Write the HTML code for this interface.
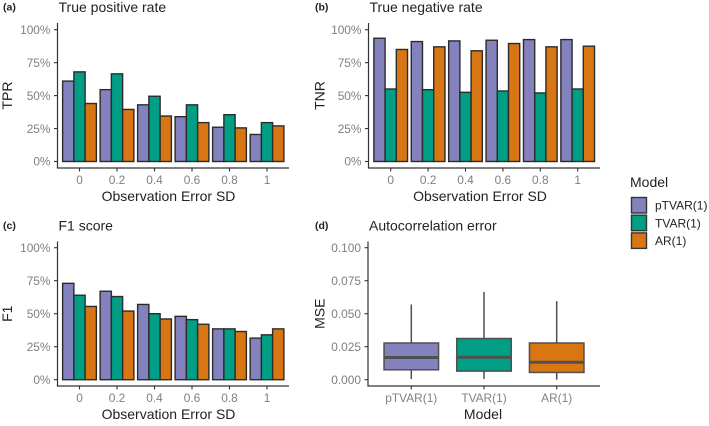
<!DOCTYPE html>
<html>
<head>
<meta charset="utf-8">
<style>
html,body{margin:0;padding:0;background:#fff;width:709px;height:426px;overflow:hidden}
svg{display:block;font-family:"Liberation Sans",sans-serif}
</style>
</head>
<body>
<svg id="fig" xmlns="http://www.w3.org/2000/svg" width="709" height="426" viewBox="0 0 709 426"></svg>
<script>
const sdCategories = ['0', '0.2', '0.4', '0.6', '0.8', '1'];
const modelNames = ['pTVAR(1)', 'TVAR(1)', 'AR(1)'];
const modelColors = ['#8482bd', '#009e85', '#d97614'];
const percentTicks = [0, 25, 50, 75, 100];
const mseTicks = [0, 0.025, 0.05, 0.075, 0.1];
const mseTickLabels = ['0.000', '0.025', '0.050', '0.075', '0.100'];

const tprPTVAR = [61, 54.5, 43, 34, 26, 20.5];
const tprTVAR = [68, 66.5, 49.5, 43, 35.5, 29.5];
const tprAR = [44, 39.5, 34.5, 29.5, 25.5, 27];

const tnrPTVAR = [93.5, 91, 91.5, 92, 92.5, 92.5];
const tnrTVAR = [55, 54.5, 52.5, 53.5, 52, 55];
const tnrAR = [85, 87, 84, 89.5, 87, 87.5];

const f1PTVAR = [73, 67, 57, 48, 38.5, 31.5];
const f1TVAR = [64, 63, 50, 45.5, 38.5, 34];
const f1AR = [55.5, 52, 46, 42, 36.5, 38.5];

const boxLower = [0.0075, 0.0065, 0.0055];
const boxMedian = [0.0168, 0.0170, 0.0132];
const boxUpper = [0.0278, 0.0312, 0.0278];
const whiskerLow = [0.0005, 0.0005, 0];
const whiskerHigh = [0.0570, 0.0665, 0.0595];

const svg = document.getElementById('fig');
const NS = 'http://www.w3.org/2000/svg';
const AXIS = '#333333', TICKTXT = '#808080', TXT = '#222222';

function node(tag, attrs, parent) {
  const el = document.createElementNS(NS, tag);
  for (const k in attrs) el.setAttribute(k, attrs[k]);
  (parent || svg).appendChild(el);
  return el;
}
function label(str, x, y, size, fill, anchor, parent, rotate, weight) {
  const a = {x: x, y: y, 'font-size': size, fill: fill, 'text-anchor': anchor || 'start'};
  if (rotate) a.transform = 'rotate(-90 ' + x + ' ' + y + ')';
  if (weight) a['font-weight'] = weight;
  const t = node('text', a, parent);
  t.textContent = str;
  return t;
}
function makeGroup(name, parent) {
  const g = node('g', {}, parent);
  
  
  return g;
}
function named(el, name) {
  
  
  return el;
}

function drawFrame(g, p, yTicks, yTickLabels, yScale, xLabels, xScale) {
  named(node('line', {x1: p.left, x2: p.left, y1: p.top, y2: p.bottom, stroke: AXIS, 'stroke-width': 1.2}, g), 'y-axis-line');
  named(node('line', {x1: p.left - 0.6, x2: p.right, y1: p.bottom, y2: p.bottom, stroke: AXIS, 'stroke-width': 1.2}, g), 'x-axis-line');
  yTicks.forEach(function (v, i) {
    const y = yScale(v);
    named(node('line', {x1: p.left - 3.5, x2: p.left, y1: y, y2: y, stroke: AXIS, 'stroke-width': 1.1}, g), 'y-tick');
    named(label(yTickLabels[i], p.left - 7, y + 4.2, 11.9, TICKTXT, 'end', g), 'y-tick-label');
  });
  xLabels.forEach(function (s, i) {
    const x = xScale(i);
    named(node('line', {x1: x, x2: x, y1: p.bottom, y2: p.bottom + 3.5, stroke: AXIS, 'stroke-width': 1.1}, g), 'x-tick');
    named(label(s, x, p.bottom + 15.8, 11.9, TICKTXT, 'middle', g), 'x-tick-label');
  });
  named(label(p.title, p.left + 1, p.top - 11, 14, TXT, 'start', g), 'panel-title');
  named(label(p.tag, p.tagX, p.top - 12.5, 10.5, TXT, 'start', g, false, 'bold'), 'panel-tag');
  named(label(p.xTitle, p.xTitleX, p.bottom + 33, 14, TXT, 'middle', g), 'x-axis-title');
  named(label(p.yTitle, p.yTitleX, (p.top + p.bottom) / 2, 14, TXT, 'middle', g, true), 'y-axis-title');
}

function barPanel(p, series) {
  const g = makeGroup(p.name);
  const yScale = function (v) { return p.y0 - v * (p.y0 - p.y100) / 100; };
  const xScale = function (i) { return p.x0 + i * p.step; };
  const barW = p.step * 0.9 / 3;
  series.forEach(function (vals, s) {
    vals.forEach(function (v, i) {
      const x = xScale(i) + (s - 1.5) * barW;
      const r = node('rect', {x: x, y: yScale(v), width: barW, height: yScale(0) - yScale(v),
        fill: modelColors[s], stroke: '#2b2b2b', 'stroke-width': 1.4}, g);
      
      
    });
  });
  drawFrame(g, p, percentTicks, percentTicks.map(function (t) { return t + '%'; }), yScale, sdCategories, xScale);
}

function boxPanel(p) {
  const g = makeGroup(p.name);
  const yScale = function (v) { return p.y0 - v * (p.y0 - p.y100) / 0.1; };
  const xScale = function (i) { return p.x0 + i * p.step; };
  const w = p.step * 0.75;
  const c = '#505050';
  modelNames.forEach(function (m, i) {
    const x = xScale(i);
    named(node('line', {x1: x, x2: x, y1: yScale(whiskerHigh[i]), y2: yScale(boxUpper[i]), stroke: c, 'stroke-width': 1.5}, g), 'whisker-upper');
    named(node('line', {x1: x, x2: x, y1: yScale(boxLower[i]), y2: yScale(whiskerLow[i]), stroke: c, 'stroke-width': 1.5}, g), 'whisker-lower');
    named(node('rect', {x: x - w / 2, y: yScale(boxUpper[i]), width: w, height: yScale(boxLower[i]) - yScale(boxUpper[i]),
      fill: modelColors[i], stroke: c, 'stroke-width': 1.5}, g), 'box');
    named(node('line', {x1: x - w / 2, x2: x + w / 2, y1: yScale(boxMedian[i]), y2: yScale(boxMedian[i]), stroke: c, 'stroke-width': 3}, g), 'median-line');
  });
  drawFrame(g, p, mseTicks, mseTickLabels, yScale, modelNames, xScale);
}

barPanel({name: 'panel-a-true-positive-rate', left: 57.5, right: 289, top: 23, bottom: 168, x0: 79.5, step: 37.5, y0: 161.5, y100: 29.7,
  title: 'True positive rate', tag: '(a)', tagX: 3, xTitle: 'Observation Error SD', xTitleX: 168.5, yTitle: 'TPR', yTitleX: 12},
  [tprPTVAR, tprTVAR, tprAR]);
barPanel({name: 'panel-b-true-negative-rate', left: 368.5, right: 600, top: 23, bottom: 168, x0: 390.7, step: 37.4, y0: 161.5, y100: 29.7,
  title: 'True negative rate', tag: '(b)', tagX: 315, xTitle: 'Observation Error SD', xTitleX: 480, yTitle: 'TNR', yTitleX: 324.5},
  [tnrPTVAR, tnrTVAR, tnrAR]);
barPanel({name: 'panel-c-f1-score', left: 57.5, right: 289, top: 241.5, bottom: 386, x0: 79.5, step: 37.5, y0: 379.7, y100: 247.7,
  title: 'F1 score', tag: '(c)', tagX: 3, xTitle: 'Observation Error SD', xTitleX: 168.5, yTitle: 'F1', yTitleX: 12},
  [f1PTVAR, f1TVAR, f1AR]);
boxPanel({name: 'panel-d-autocorrelation-error', left: 368, right: 600, top: 241.5, bottom: 386, x0: 411.3, step: 72.7, y0: 379.7, y100: 247.7,
  title: 'Autocorrelation error', tag: '(d)', tagX: 315, xTitle: 'Model', xTitleX: 483, yTitle: 'MSE', yTitleX: 324.5});

const legend = makeGroup('legend');
named(label('Model', 630, 187, 14, TXT, 'start', legend), 'legend-title');
modelNames.forEach(function (m, i) {
  const y = 197.5 + i * 17.7;
  named(node('rect', {x: 631.5, y: y, width: 15, height: 15.5, fill: modelColors[i], stroke: '#333333', 'stroke-width': 1.4}, legend), 'legend-swatch');
  named(label(m, 655, y + 12.2, 12, TXT, 'start', legend), 'legend-entry');
});
</script>
</body>
</html>
